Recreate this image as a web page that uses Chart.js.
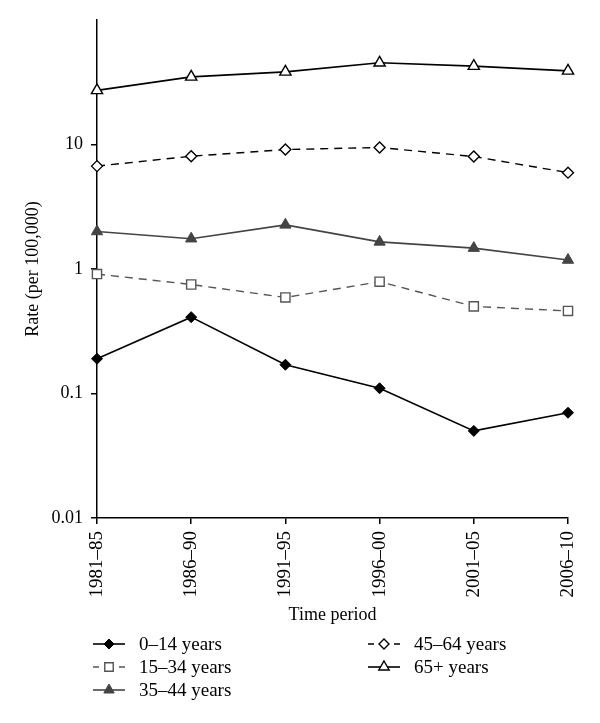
<!DOCTYPE html>
<html>
<head>
<meta charset="utf-8">
<script src="https://cdn.jsdelivr.net/npm/chart.js@4/dist/chart.umd.min.js"></script>
<style>
  html, body { margin: 0; padding: 0; background: #fff; }
  #wrap { width: 600px; height: 723px; position: relative; }
</style>
</head>
<body>
<div id="wrap"><canvas id="rate-chart"></canvas></div>
<script>
var PERIODS = ["1981–85", "1986–90", "1991–95", "1996–00", "2001–05", "2006–10"];
var Y_TICKS = [0.01, 0.1, 1, 10];

var AGE_0_14 = [0.19, 0.41, 0.17, 0.11, 0.05, 0.07];
var AGE_15_34 = [0.91, 0.75, 0.59, 0.79, 0.50, 0.46];
var AGE_35_44 = [2.0, 1.75, 2.26, 1.65, 1.47, 1.18];
var AGE_45_64 = [6.7, 8.05, 9.1, 9.46, 8.0, 5.94];
var AGE_65_UP = [27.2, 34.9, 38.3, 45.3, 42.6, 39.0];

var FONT = "'Liberation Serif', 'DejaVu Serif', serif";

// legend: two columns under the plot, line sample with the marker in the middle
var legendPlugin = {
  id: "colLegend",
  afterDraw: function(chart) {
    var ctx = chart.ctx;
    var slots = [
      {x: 93, y: 644}, {x: 93, y: 667}, {x: 93, y: 690},
      {x: 368, y: 644}, {x: 368, y: 667}
    ];
    chart.data.datasets.forEach(function(ds, i) {
      var s = slots[i];
      ctx.save();
      ctx.strokeStyle = ds.borderColor;
      ctx.lineWidth = ds.borderWidth;
      if (ds.borderDash) {
        ctx.beginPath();
        ctx.moveTo(s.x, s.y); ctx.lineTo(s.x + 6, s.y);
        ctx.moveTo(s.x + 26, s.y); ctx.lineTo(s.x + 32, s.y);
        ctx.stroke();
      } else {
        ctx.beginPath();
        ctx.moveTo(s.x, s.y); ctx.lineTo(s.x + 32, s.y);
        ctx.stroke();
      }
      ctx.fillStyle = ds.pointBackgroundColor;
      ctx.strokeStyle = ds.pointBorderColor;
      ctx.lineWidth = ds.pointBorderWidth;
      Chart.helpers.drawPoint(ctx, {pointStyle: ds.pointStyle, radius: ds.pointRadius - 0.5, rotation: 0, borderWidth: ds.pointBorderWidth}, s.x + 16, s.y);
      ctx.fillStyle = "#000";
      ctx.font = "19px " + FONT;
      ctx.textBaseline = "middle";
      ctx.fillText(ds.label, s.x + 46, s.y + 1);
      ctx.restore();
    });
  }
};

new Chart(document.getElementById("rate-chart"), {
  type: "line",
  data: {
    labels: PERIODS,
    datasets: [
      {
        label: "0–14 years", data: AGE_0_14,
        borderColor: "#000", borderWidth: 1.6,
        pointStyle: "rectRot", pointRadius: 5.5,
        pointBackgroundColor: "#000", pointBorderColor: "#000", pointBorderWidth: 1
      },
      {
        label: "15–34 years", data: AGE_15_34,
        borderColor: "#555", borderWidth: 1.4, borderDash: [8, 6],
        pointStyle: "rect", pointRadius: 6.5,
        pointBackgroundColor: "#fff", pointBorderColor: "#555", pointBorderWidth: 1.4
      },
      {
        label: "35–44 years", data: AGE_35_44,
        borderColor: "#444", borderWidth: 1.6,
        pointStyle: "triangle", pointRadius: 6.5,
        pointBackgroundColor: "#444", pointBorderColor: "#444", pointBorderWidth: 1
      },
      {
        label: "45–64 years", data: AGE_45_64,
        borderColor: "#000", borderWidth: 1.4, borderDash: [8, 6],
        pointStyle: "rectRot", pointRadius: 5.5,
        pointBackgroundColor: "#fff", pointBorderColor: "#000", pointBorderWidth: 1.4
      },
      {
        label: "65+ years", data: AGE_65_UP,
        borderColor: "#000", borderWidth: 1.6,
        pointStyle: "triangle", pointRadius: 6.5,
        pointBackgroundColor: "#fff", pointBorderColor: "#000", pointBorderWidth: 1.4
      }
    ]
  },
  options: {
    responsive: true,
    maintainAspectRatio: false,
    animation: false,
    layout: { padding: { top: 20, right: 32, left: 22, bottom: 97 } },
    plugins: {
      legend: { display: false },
      tooltip: { enabled: false }
    },
    scales: {
      x: {
        offset: false,
        grid: { display: true, drawOnChartArea: false, drawTicks: true, tickLength: 6, color: "#000", lineWidth: 1.5 },
        border: { display: true, color: "#000", width: 1.5 },
        ticks: { color: "#000", font: { family: FONT, size: 19 }, minRotation: 90, maxRotation: 90, padding: 7 },
        title: { display: true, text: "Time period", color: "#000", font: { family: FONT, size: 18 }, padding: { top: 0, bottom: 0 } }
      },
      y: {
        type: "logarithmic",
        min: 0.01,
        max: 100,
        afterBuildTicks: function(scale) {
          scale.ticks = Y_TICKS.map(function(v) { return {value: v}; });
        },
        afterFit: function(scale) { scale.width = 75; },
        grid: { display: true, drawOnChartArea: false, drawTicks: true, tickLength: 6, color: "#000", lineWidth: 1.5 },
        border: { display: true, color: "#000", width: 1.5 },
        ticks: {
          color: "#000", font: { family: FONT, size: 18 }, padding: 8,
          callback: function(v) { return String(v); }
        },
        title: { display: true, text: "Rate (per 100,000)", color: "#000", font: { family: FONT, size: 18 }, padding: { top: 0, bottom: 0 } }
      }
    }
  },
  plugins: [legendPlugin]
});
</script>
</body>
</html>
